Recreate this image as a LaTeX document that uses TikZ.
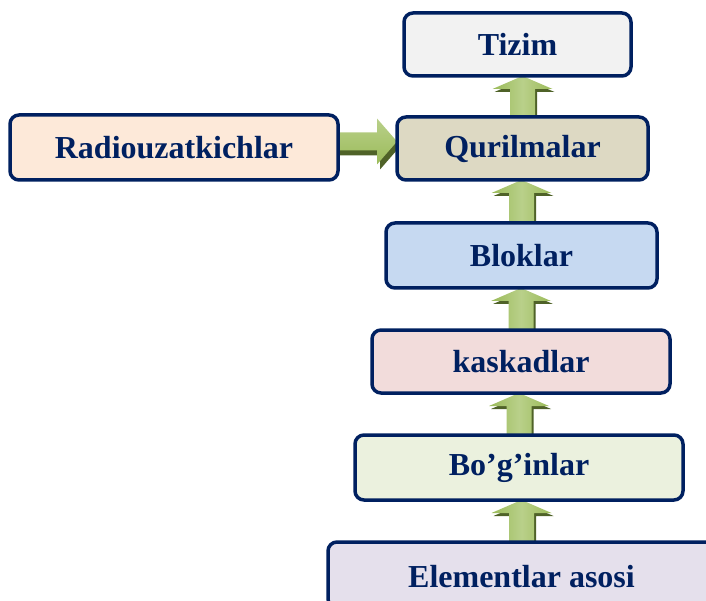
\documentclass[tikz,border=0pt]{standalone}
\usepackage{fontspec}
\setmainfont{Liberation Serif}
\usetikzlibrary{calc,backgrounds}
\definecolor{navy}{HTML}{002060}
\definecolor{arrgreen}{HTML}{9BBB59}
\definecolor{arrlight}{HTML}{B9D08A}
\definecolor{arrshadow}{HTML}{4F6228}
\definecolor{fTizim}{HTML}{F2F2F2}
\definecolor{fQur}{HTML}{DDD9C3}
\definecolor{fRadio}{HTML}{FDE9D9}
\definecolor{fBlok}{HTML}{C6D9F1}
\definecolor{fKask}{HTML}{F2DCDB}
\definecolor{fBog}{HTML}{EBF1DE}
\definecolor{fElem}{HTML}{E5E0EC}
\tikzset{
  box/.style={draw=navy, line width=3.5pt, rounded corners=9pt, text=navy,
    font=\fontsize{32}{38}\selectfont\bfseries, inner sep=0pt, outer sep=0pt},
  arrbody/.style={left color=arrgreen, right color=arrgreen, middle color=arrlight},
  harrbody/.style={top color=arrlight, bottom color=arrgreen},
  arrshade/.style={fill=arrshadow}
}
\newcommand\vconn[2]{% #1 lower node, #2 upper node
  \path let \p1=(#2.south), \p2=(#1.north) in
    [arrshade] (\x2+2pt,\y1-3pt) -- (\x2+32pt,\y1-16pt) -- (\x2+14.5pt,\y1-16pt)
      -- (\x2+14.5pt,\y2) -- (\x2-10.5pt,\y2) -- (\x2-10.5pt,\y1-16pt)
      -- (\x2-28pt,\y1-16pt) -- cycle;
  \path let \p1=(#2.south), \p2=(#1.north) in
    [arrbody] (\x2,\y1) -- (\x2+30pt,\y1-13pt) -- (\x2+12.5pt,\y1-13pt)
      -- (\x2+12.5pt,\y2) -- (\x2-12.5pt,\y2) -- (\x2-12.5pt,\y1-13pt)
      -- (\x2-30pt,\y1-13pt) -- cycle;
}
\newcommand\hconn[2]{% #1 left node, #2 right node
  \path let \p1=(#1.east), \p2=(#2.west) in
    [arrshade] (\x1,\y1+6pt-9pt-5pt) -- (\x2-20pt+3pt,\y1+6pt-9pt-5pt)
      -- (\x2-20pt+3pt,\y1+6pt-23pt-5pt) -- (\x2+3pt,\y1+6pt-5pt)
      -- (\x2-20pt+3pt,\y1+6pt+23pt-5pt) -- (\x2-20pt+3pt,\y1+6pt+9pt-5pt)
      -- (\x1,\y1+6pt+9pt-5pt) -- cycle;
  \path let \p1=(#1.east), \p2=(#2.west) in
    [harrbody] (\x1,\y1+6pt-9pt) -- (\x2-20pt,\y1+6pt-9pt)
      -- (\x2-20pt,\y1+6pt-23pt) -- (\x2,\y1+6pt)
      -- (\x2-20pt,\y1+6pt+23pt) -- (\x2-20pt,\y1+6pt+9pt)
      -- (\x1,\y1+6pt+9pt) -- cycle;
}
\begin{document}
\begin{tikzpicture}[x=1pt,y=-1pt]
\useasboundingbox (0,0) rectangle (706,601);
\clip (0,0) rectangle (706,601);
\node[box, fill=fTizim, minimum width=227pt, minimum height=63pt] (tizim) at (517.5,44.5) {Tizim};
\node[box, fill=fQur, minimum width=251pt, minimum height=63pt] (qur) at (522.5,148.5) {Qurilmalar};
\node[box, fill=fRadio, minimum width=328pt, minimum height=65pt] (radio) at (174,147.5) {Radiouzatkichlar};
\node[box, fill=fBlok, minimum width=271pt, minimum height=65pt] (blok) at (521.5,255.5) {Bloklar};
\node[box, fill=fKask, minimum width=298pt, minimum height=63pt] (kask) at (521,361.5) {kaskadlar};
\node[box, fill=fBog, minimum width=328pt, minimum height=65pt] (bog) at (519,467.5) {Bo’g’inlar};
\node[box, fill=fElem, minimum width=387pt, minimum height=66pt, anchor=north west] (elem) at (328,542) {};
\node[text=navy, font=\fontsize{32}{38}\selectfont\bfseries, anchor=base] (elemtext) at (521.5,587) {Elementlar asosi};
\begin{scope}[on background layer]
\vconn{qur}{tizim}
\vconn{blok}{qur}
\vconn{kask}{blok}
\vconn{bog}{kask}
\vconn{elem}{bog}
\hconn{radio}{qur}
\end{scope}
\end{tikzpicture}
\end{document}
